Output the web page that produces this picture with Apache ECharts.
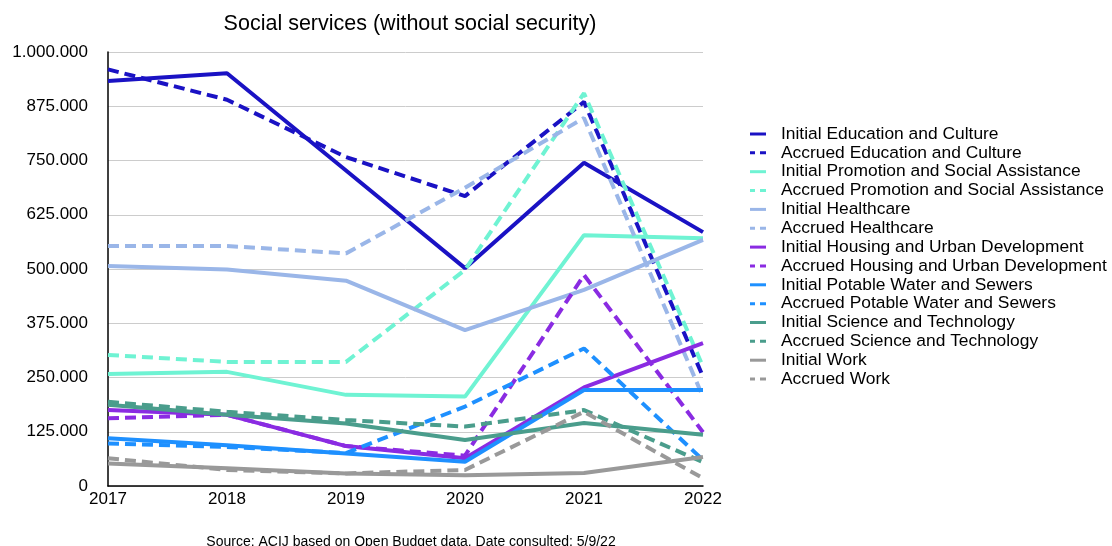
<!DOCTYPE html>
<html>
<head>
<meta charset="utf-8">
<script src="https://cdn.jsdelivr.net/npm/echarts@6/dist/echarts.min.js"></script>
<style>html,body{margin:0;padding:0;background:#fff}#c{width:1112px;height:546px}</style>
</head>
<body>
<div id="c"></div>
<script>
const years = ['2017', '2018', '2019', '2020', '2021', '2022'];
const yTicks = [0, 125000, 250000, 375000, 500000, 625000, 750000, 875000, 1000000];

const initialEducation = [933000, 951000, 727000, 502000, 745000, 585000];
const accruedEducation = [960000, 890000, 758000, 668000, 885000, 252000];
const initialPromotion = [258000, 263000, 210000, 206000, 578000, 571000];
const accruedPromotion = [302000, 286000, 286000, 498000, 905000, 275000];
const initialHealthcare = [507000, 499000, 473000, 359000, 452000, 567000];
const accruedHealthcare = [553000, 553000, 536000, 687000, 848000, 205000];
const initialHousing = [175000, 164000, 92000, 64000, 227000, 329000];
const accruedHousing = [156000, 164000, 92000, 70000, 486000, 124000];
const initialWater = [110000, 94000, 75000, 56000, 221000, 221000];
const accruedWater = [98000, 90000, 76000, 183000, 317000, 60000];
const initialScience = [187000, 164000, 144000, 106000, 145000, 118000];
const accruedScience = [194000, 171000, 152000, 137000, 175000, 55000];
const initialWork = [52000, 41000, 29000, 25000, 30000, 67000];
const accruedWork = [64000, 37000, 29000, 37000, 171000, 18000];

const seriesDefs = [
  ['Initial Education and Culture', initialEducation, '#1a12c4', 'solid'],
  ['Accrued Education and Culture', accruedEducation, '#1a12c4', 'dashed'],
  ['Initial Promotion and Social Assistance', initialPromotion, '#6ff3d3', 'solid'],
  ['Accrued Promotion and Social Assistance', accruedPromotion, '#6ff3d3', 'dashed'],
  ['Initial Healthcare', initialHealthcare, '#9ab6e8', 'solid'],
  ['Accrued Healthcare', accruedHealthcare, '#9ab6e8', 'dashed'],
  ['Initial Housing and Urban Development', initialHousing, '#8a2be2', 'solid'],
  ['Accrued Housing and Urban Development', accruedHousing, '#8a2be2', 'dashed'],
  ['Initial Potable Water and Sewers', initialWater, '#1e90ff', 'solid'],
  ['Accrued Potable Water and Sewers', accruedWater, '#1e90ff', 'dashed'],
  ['Initial Science and Technology', initialScience, '#4a9d8c', 'solid'],
  ['Accrued Science and Technology', accruedScience, '#4a9d8c', 'dashed'],
  ['Initial Work', initialWork, '#999999', 'solid'],
  ['Accrued Work', accruedWork, '#999999', 'dashed']
];

function fmt(v) {
  return String(v).replace(/\B(?=(\d{3})+(?!\d))/g, '.');
}

const chart = echarts.init(document.getElementById('c'), null, {renderer: 'canvas'});
const font = '"Liberation Sans", Arial, sans-serif';
const solidIcon = 'path://M0,0H16V3H0Z';
const dashIcon = 'path://M0,0H5V3H0Z M10,0H16V3H10Z';

chart.setOption({
  animation: false,
  backgroundColor: '#ffffff',
  textStyle: {fontFamily: font},
  title: [
    {
      text: 'Social services (without social security)',
      left: 405, top: 8, textAlign: 'center',
      textStyle: {fontSize: 21.5, fontWeight: 'normal', color: '#000', fontFamily: font}
    },
    {
      text: 'Source: ACIJ based on Open Budget data. Date consulted: 5/9/22',
      left: 406, top: 530, textAlign: 'center',
      textStyle: {fontSize: 14, fontWeight: 'normal', color: '#000', fontFamily: font}
    }
  ],
  grid: {left: 108, right: 409, top: 52, bottom: 60, containLabel: false},
  legend: {
    orient: 'vertical',
    left: 750, top: 125.5,
    padding: 0,
    itemWidth: 16, itemHeight: 3, itemGap: 1.85,
    textStyle: {fontSize: 17.4, lineHeight: 17, color: '#000', fontFamily: font, padding: [0, 0, 0, 10]},
    data: seriesDefs.map(d => ({
      name: d[0],
      icon: d[3] === 'dashed' ? dashIcon : solidIcon
    }))
  },
  xAxis: {
    type: 'category',
    data: years,
    boundaryGap: false,
    axisLine: {show: true, lineStyle: {color: '#000', width: 1.5}},
    axisTick: {show: false},
    axisLabel: {fontSize: 17, color: '#000', margin: 5, fontFamily: font},
    splitLine: {show: false}
  },
  yAxis: {
    type: 'value',
    min: yTicks[0], max: yTicks[yTicks.length - 1], interval: 125000,
    axisLine: {show: true, lineStyle: {color: '#000', width: 1.5}},
    axisTick: {show: false},
    axisLabel: {fontSize: 17, color: '#000', margin: 20, fontFamily: font, formatter: v => fmt(v)},
    splitLine: {show: true, lineStyle: {color: '#cccccc', width: 1}}
  },
  series: seriesDefs.map(d => ({
    name: d[0],
    type: 'line',
    data: d[1],
    symbol: 'none',
    color: d[2],
    lineStyle: {color: d[2], width: 4, type: d[3] === 'dashed' ? [11, 6] : 'solid'}
  }))
});
</script>
</body>
</html>
